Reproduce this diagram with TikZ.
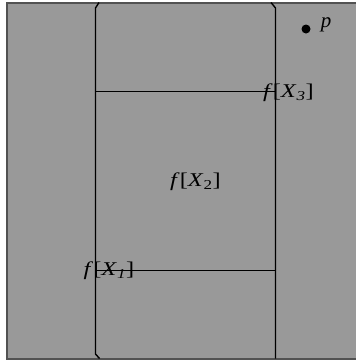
\documentclass[tikz,border=0pt]{standalone}
\usepackage{fontspec}
\setmainfont{Liberation Serif}
\begin{document}
\begin{tikzpicture}[x=1pt,y=-1pt,
  frame/.style={draw=black!68,line width=2pt},
  edge/.style={draw=black,line width=1.4pt},
  lab/.style={inner sep=0pt,font=\fontsize{19.5}{19.5}\selectfont,xscale=1.25,transform shape},
  plab/.style={inner sep=0pt,font=\fontsize{21}{21}\selectfont\itshape}]
\useasboundingbox (0,0) rectangle (356,362);
\fill[white] (0,0) rectangle (356,362);
\fill[black!40] (6.5,2.5) rectangle (360,358.5);
\draw[frame] (360,2.5) -- (6.5,2.5) -- (6.5,358.5) -- (360,358.5);
% inner region
\coordinate (tl) at (99,2.5);
\coordinate (tl2) at (95.5,8);
\coordinate (bl2) at (95.5,354);
\coordinate (bl) at (99.5,358.5);
\coordinate (tr) at (271,2.5);
\coordinate (tr2) at (275.5,8);
\coordinate (br) at (275.5,358.5);
\draw[edge] (tl) -- (tl2) -- (bl2) -- (bl);
\draw[edge] (tr) -- (tr2) -- (br);
\coordinate (a1) at (95.5,91.5);
\coordinate (a2) at (275.5,91.5);
\coordinate (b1) at (95.5,270.5);
\coordinate (b2) at (275.5,270.5);
\draw[edge] (a1) -- (a2);
\draw[edge] (b1) -- (b2);
\node[lab] (x3) at (288.5,93) {\textit{f}[\textit{X}\textsubscript{\textit{3}}]};
\node[lab] (x2) at (195.5,182) {\textit{f}[\textit{X}\textsubscript{2}]};
\node[lab] (x1) at (109,271) {\textit{f}[\textit{X}\textsubscript{\textit{1}}]};
\fill[black] (306,29) circle (4.5);
\node[plab] (p) at (326,25) {p};
\end{tikzpicture}
\end{document}
